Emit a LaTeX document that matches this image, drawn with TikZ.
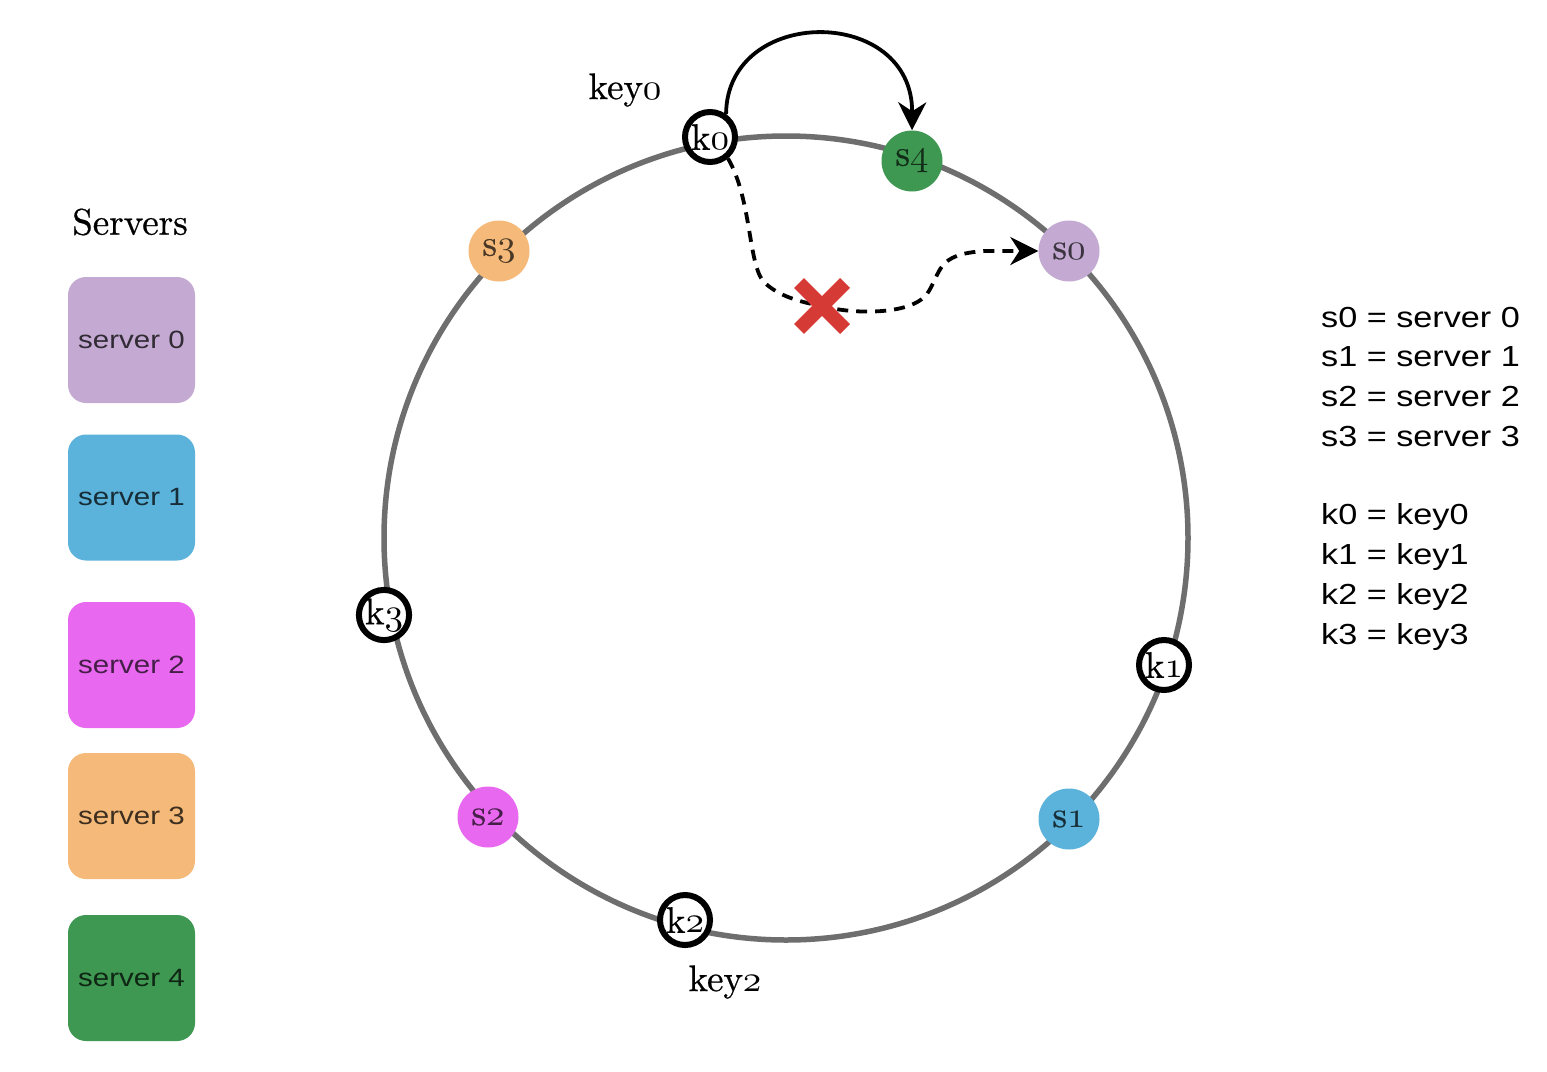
\documentclass[tikz,border=0pt]{standalone}
\usepackage{fontspec}
\newfontfamily\sansf[FakeStretch=1.18]{Liberation Sans}
\newfontfamily\serf[FakeBold=0.6]{lmroman10-regular.otf}
\usetikzlibrary{arrows.meta,shapes.misc}
\definecolor{czero}{RGB}{196,170,210}
\definecolor{cone}{RGB}{91,178,218}
\definecolor{ctwo}{RGB}{232,104,240}
\definecolor{cthree}{RGB}{245,186,122}
\definecolor{cfour}{RGB}{62,152,82}
\definecolor{ringgray}{RGB}{110,110,110}
\definecolor{xred}{RGB}{214,58,52}
\font\osnf=cmmi10 at 37pt
\newcommand\osn[1]{{\osnf #1}}
\newcommand\serlab{\serf\fontsize{37}{40}\selectfont}
\newcommand\serbig{\serf\fontsize{37}{40}\selectfont}
\begin{document}
\begin{tikzpicture}[x=1pt,y=-1pt,
  ringline/.style={draw=ringgray, line width=5.5pt},
  srv/.style={circle, minimum size=61pt, inner sep=0pt, font=\serlab},
  keynode/.style={circle, draw=black, line width=6pt, fill=white, minimum size=50pt, inner sep=0pt, font=\serlab},
  sbox/.style={rounded corners=18pt, minimum width=127pt, minimum height=126pt, inner sep=0pt, font=\sansf\fontsize{25}{28}\selectfont},
  legend/.style={anchor=west, inner sep=0pt, font=\sansf\fontsize{29}{32}\selectfont},
  seriftext/.style={inner sep=0pt, font=\serbig},
  solidarrow/.style={line width=3.8pt, -{Stealth[length=28pt,width=28pt,inset=9pt]}},
  dasharrow/.style={line width=3.8pt, dash pattern=on 11pt off 8pt, -{Stealth[length=28pt,width=28pt,inset=9pt]}},
  xmark/.style={cross out, draw=xred, line width=14pt, minimum size=32pt, inner sep=0pt}
]
\useasboundingbox (0,0) rectangle (1547,1071);
\fill[white] (0,0) rectangle (1547,1071);

% ring
\coordinate (c) at (786,538);
\draw[ringline] (c) circle[radius=402pt];

% servers on ring
\node[srv, fill=czero, text=czero!30!black] (s0) at (1069,251) {s\osn{0}};
\node[srv, fill=cone, text=cone!25!black] (s1) at (1069,819) {s\osn{1}};
\node[srv, fill=ctwo, text=ctwo!30!black] (s2) at (488,817) {s\osn{2}};
\node[srv, fill=cthree, text=cthree!30!black] (s3) at (499,251) {s\osn{3}};
\node[srv, fill=cfour, text=cfour!30!black] (s4) at (912,161) {s\osn{4}};

% keys on ring
\node[keynode] (k0) at (710,137) {k\osn{0}};
\node[keynode] (k1) at (1164,665) {k\osn{1}};
\node[keynode] (k2) at (685,920) {k\osn{2}};
\node[keynode] (k3) at (384,615) {k\osn{3}};

% key labels
\node[seriftext] (lk0) at (625,90) {key\osn{0}};
\node[seriftext] (lk2) at (725,982) {key\osn{2}};

% arrows
\draw[solidarrow] (k0.55) .. controls (727,5) and (913,5) .. (s4.north);
\coordinate (xc) at (822,306);
\draw[dasharrow] (k0.-50) .. controls (752,200) and (748,265) .. (764,282)
  .. controls (778,296) and (800,302) .. (xc)
  .. controls (850,314) and (910,316) .. (927,294)
  .. controls (942,272) and (935,254) .. (985,251) -- (s0.west);
\node[xmark] (xm) at (xc) {};

% servers legend boxes
\node[seriftext] (stitle) at (130,222) {Servers};
\node[sbox, fill=czero, text=czero!25!black] (b0) at (131.5,340) {server 0};
\node[sbox, fill=cone, text=cone!25!black] (b1) at (131.5,497.5) {server 1};
\node[sbox, fill=ctwo, text=ctwo!30!black] (b2) at (131.5,665) {server 2};
\node[sbox, fill=cthree, text=cthree!25!black] (b3) at (131.5,816) {server 3};
\node[sbox, fill=cfour, text=cfour!25!black] (b4) at (131.5,978) {server 4};

% right legend
\node[legend] (l0) at (1321,318) {s0 = server 0};
\node[legend] (l1) at (1321,357) {s1 = server 1};
\node[legend] (l2) at (1321,397) {s2 = server 2};
\node[legend] (l3) at (1321,437) {s3 = server 3};
\node[legend] (l4) at (1321,517) {k0 = key0};
\node[legend] (l5) at (1321,557) {k1 = key1};
\node[legend] (l6) at (1321,597) {k2 = key2};
\node[legend] (l7) at (1321,637) {k3 = key3};
\end{tikzpicture}
\end{document}
